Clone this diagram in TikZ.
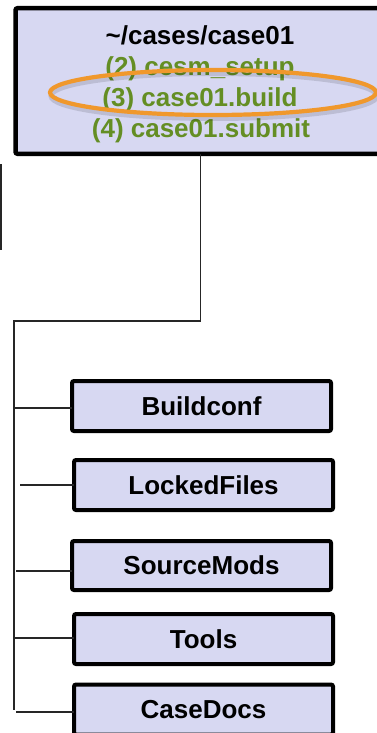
\documentclass[tikz,border=0pt]{standalone}
\usepackage{fontspec}
\setmainfont{Liberation Sans}
\definecolor{boxfill}{RGB}{215,216,242}
\definecolor{stepgreen}{RGB}{100,142,36}
\definecolor{hlorange}{RGB}{240,152,44}
\begin{document}
\begin{tikzpicture}[x=1pt,y=-1pt,
  dirbox/.style={draw=black, line width=4pt, fill=boxfill, rounded corners=2pt,
    minimum width=259pt, minimum height=50pt, inner sep=0pt, outer sep=0pt,
    font=\fontsize{26}{31}\selectfont\bfseries},
  topbox/.style={draw=black, line width=4.5pt, fill=boxfill, rounded corners=2pt,
    minimum width=370pt, minimum height=145.5pt, inner sep=0pt, outer sep=0pt},
  toptext/.style={anchor=base, inner sep=0pt, font=\fontsize{26}{31}\selectfont\bfseries},
  greentext/.style={toptext, text=stepgreen},
  link/.style={line width=1.8pt, black!85}]
\useasboundingbox (0,0) rectangle (377,733);
\clip (0,0) rectangle (377,733);

% top directory box
\node[topbox] (top) at (200.5,81) {};
\node[toptext] (t0) at (200,45) {\textasciitilde/cases/case01};
\node[greentext] (t2) at (200,76) {(2) cesm\_setup};
\node[greentext] (t3) at (200,107) {(3) case01.build};
\node[greentext] (t4) at (201,138) {(4) case01.submit};

% highlight ellipse with soft shadow
\draw[line width=5pt, black, opacity=0.12] (214,96) ellipse [x radius=163, y radius=22.5];
\draw[line width=4.2pt, hlorange] (213,92.5) ellipse [x radius=163, y radius=22.5];

% stray line at left edge
\coordinate (s1) at (1,164);
\coordinate (s2) at (1,250);
\draw[link] (s1) -- (s2);

% child directories
\node[dirbox] (b1) at (201.5,406) {Buildconf};
\node[dirbox] (b2) at (203.5,485) {LockedFiles};
\node[dirbox, minimum height=49pt] (b3) at (201.5,565.5) {SourceMods};
\node[dirbox] (b4) at (203.5,639) {Tools};
\node[dirbox] (b5) at (203.5,709.5) {CaseDocs};

% trunk
\coordinate (bend) at (200.5,321);
\coordinate (tl) at (14,321);
\coordinate (tb) at (14,710);
\draw[link] (top.south) -- (bend) -- (tl) -- (tb);

% branches
\coordinate (c1) at (14,408);
\coordinate (c2) at (20,485);
\coordinate (c3) at (16,571);
\coordinate (c4) at (14,638);
\coordinate (c5) at (16,712);
\draw[link] (c1) -- (c1 -| b1.west);
\draw[link] (c2) -- (c2 -| b2.west);
\draw[link] (c3) -- (c3 -| b3.west);
\draw[link] (c4) -- (c4 -| b4.west);
\draw[link] (c5) -- (c5 -| b5.west);
\end{tikzpicture}
\end{document}
